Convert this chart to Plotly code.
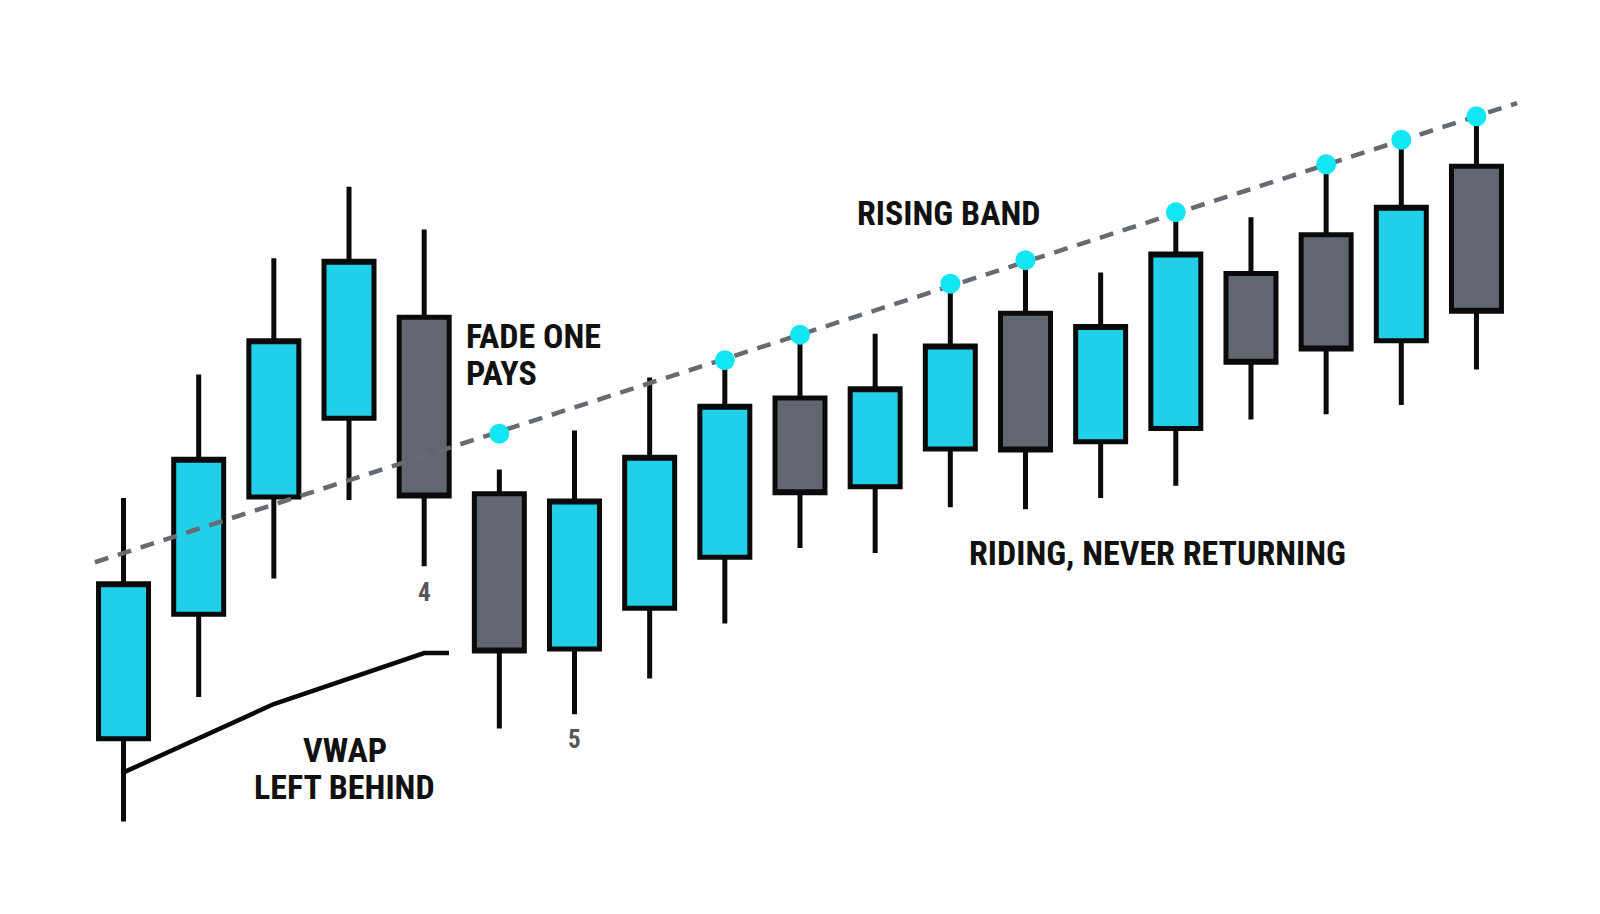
import plotly.graph_objects as go

# candle index positions
idx = list(range(19))
# price values (arbitrary units)
opens  = [17.2, 29.4, 40.9, 48.6, 58.5, 41.2, 26.0, 30.0, 35.0, 50.6, 41.9, 45.6, 58.9, 46.3, 47.6, 62.8, 66.6, 56.2, 73.3]
closes = [32.4, 44.6, 56.2, 64.0, 41.0, 25.8, 40.5, 44.8, 49.8, 41.3, 51.5, 55.7, 45.5, 57.6, 64.7, 54.1, 55.4, 69.3, 59.1]
highs  = [40.8, 52.9, 64.3, 71.3, 67.1, 43.6, 47.4, 52.6, 54.4, 56.8, 56.9, 61.8, 64.1, 62.9, 68.8, 68.3, 73.5, 75.9, 78.2]
lows   = [9.1, 21.3, 32.9, 40.6, 34.1, 18.2, 19.6, 23.1, 28.5, 35.9, 35.4, 39.9, 39.7, 40.8, 42.0, 48.5, 49.0, 49.9, 53.4]

# touches of the rising band
touch_x = [5, 8, 9, 11, 12, 14, 16, 17, 18]
touch_y = [47.1, 54.3, 56.8, 61.8, 64.1, 68.8, 73.5, 75.9, 78.2]

# rising band (dashed)
band_x = [-0.38, 18.54]
band_y = [34.5, 79.5]

# VWAP line
vwap_x = [0, 2, 4, 4.33]
vwap_y = [13.9, 20.6, 25.6, 25.6]

CYAN = "#21CFE8"
GRAY = "#616671"
DOT = "#12E6F2"
FONT = "Roboto Condensed, Roboto, sans-serif"

fig = go.Figure()

fig.add_trace(go.Scatter(x=band_x, y=band_y, mode="lines",
                         line=dict(color="#666A72", width=4.5, dash="14px,10px"),
                         hoverinfo="skip", showlegend=False))

fig.add_trace(go.Scatter(x=vwap_x, y=vwap_y, mode="lines",
                         line=dict(color="#0a0a0a", width=4.5),
                         hoverinfo="skip", showlegend=False))

fig.add_trace(go.Candlestick(
    x=idx, open=opens, high=highs, low=lows, close=closes,
    increasing=dict(line=dict(color="#0a0a0a", width=5), fillcolor=CYAN),
    decreasing=dict(line=dict(color="#0a0a0a", width=5), fillcolor=GRAY),
    whiskerwidth=0, showlegend=False))

fig.add_trace(go.Scatter(x=touch_x, y=touch_y, mode="markers",
                         marker=dict(color=DOT, size=20, line=dict(width=0)),
                         hoverinfo="skip", showlegend=False))

def label(x, y, text, size=34, color="#111111", xanchor="center", align="center"):
    fig.add_annotation(x=x, y=y, text=text, showarrow=False,
                       xanchor=xanchor, yanchor="middle", align=align,
                       font=dict(family=FONT, size=size, color=color, weight="bold"))

label(4.53, 56.7, "FADE ONE", xanchor="left", align="left")
label(4.53, 53.0, "PAYS", xanchor="left", align="left")
label(10.97, 68.7, "RISING BAND")
label(13.76, 35.4, "RIDING, NEVER RETURNING")
label(2.945, 16.1, "VWAP")
label(2.945, 12.5, "LEFT BEHIND")
label(4, 31.5, "4", size=25, color="#555555")
label(6, 17.1, "5", size=25, color="#555555")

fig.update_layout(
    width=1600, height=914,
    margin=dict(l=0, r=0, t=0, b=0),
    paper_bgcolor="white", plot_bgcolor="white",
    boxgap=0.05,
    xaxis=dict(range=[-1.537, 19.75], visible=False, rangeslider=dict(visible=False), fixedrange=True),
    yaxis=dict(range=[-0.76, 88.82], visible=False, fixedrange=True),
)

fig.write_html("out.html")
